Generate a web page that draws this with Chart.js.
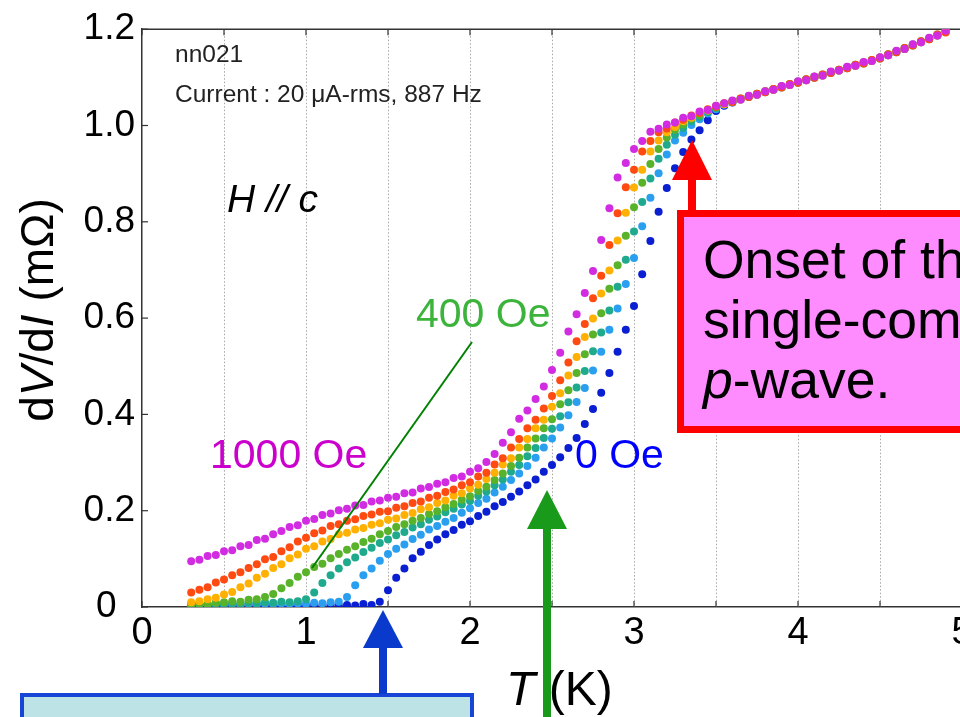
<!DOCTYPE html>
<html>
<head>
<meta charset="utf-8">
<title>dV/dI vs T</title>
<script src="https://cdn.jsdelivr.net/npm/chart.js@4.4.1/dist/chart.umd.min.js"></script>
<style>
  html, body { margin: 0; padding: 0; background: #fff; overflow: hidden; }
  #wrap { width: 960px; height: 717px; overflow: hidden; position: relative; }
  canvas { display: block; }
</style>
</head>
<body>
<div id="wrap"><canvas id="rtChart" width="980" height="717"></canvas></div>
<script>
// temperature (K), shared by every field
const temps = [
  0.30, 0.35, 0.40, 0.45, 0.50, 0.55, 0.60, 0.65, 0.70, 0.75,
  0.80, 0.85, 0.90, 0.95, 1.00, 1.05, 1.10, 1.15, 1.20, 1.25,
  1.30, 1.35, 1.40, 1.45, 1.50, 1.55, 1.60, 1.65, 1.70, 1.75,
  1.80, 1.85, 1.90, 1.95, 2.00, 2.05, 2.10, 2.15, 2.20, 2.25,
  2.30, 2.35, 2.40, 2.45, 2.50, 2.55, 2.60, 2.65, 2.70, 2.75,
  2.80, 2.85, 2.90, 2.95, 3.00, 3.05, 3.10, 3.15, 3.20, 3.25,
  3.30, 3.35, 3.40, 3.45, 3.50, 3.55, 3.60, 3.65, 3.70, 3.75,
  3.80, 3.85, 3.90, 3.95, 4.00, 4.05, 4.10, 4.15, 4.20, 4.25,
  4.30, 4.35, 4.40, 4.45, 4.50, 4.55, 4.60, 4.65, 4.70, 4.75,
  4.80, 4.85, 4.90
];

const fieldLabels = ['1000 Oe', '800 Oe', '600 Oe', '400 Oe', '200 Oe', '100 Oe', '0 Oe'];

// dV/dI (mOhm)
const r1000 = [
  0.095, 0.098, 0.106, 0.108, 0.116, 0.118, 0.126, 0.129, 0.139, 0.142,
  0.151, 0.158, 0.166, 0.170, 0.179, 0.183, 0.191, 0.194, 0.201, 0.204,
  0.211, 0.212, 0.219, 0.221, 0.227, 0.229, 0.236, 0.238, 0.246, 0.249,
  0.256, 0.259, 0.268, 0.271, 0.281, 0.288, 0.301, 0.318, 0.341, 0.363,
  0.391, 0.408, 0.432, 0.458, 0.492, 0.528, 0.572, 0.608, 0.652, 0.698,
  0.762, 0.828, 0.892, 0.922, 0.951, 0.968, 0.987, 0.993, 1.002, 1.006,
  1.016, 1.019, 1.029, 1.032, 1.041, 1.046, 1.052, 1.054, 1.062, 1.064,
  1.071, 1.074, 1.082, 1.084, 1.092, 1.094, 1.102, 1.104, 1.112, 1.114,
  1.122, 1.124, 1.132, 1.134, 1.142, 1.146, 1.155, 1.159, 1.169, 1.173,
  1.182, 1.187, 1.197
];
const r800 = [
  0.030, 0.036, 0.041, 0.051, 0.057, 0.066, 0.072, 0.081, 0.089, 0.099,
  0.104, 0.116, 0.124, 0.136, 0.144, 0.153, 0.159, 0.168, 0.172, 0.179,
  0.182, 0.189, 0.192, 0.198, 0.199, 0.206, 0.209, 0.216, 0.219, 0.227,
  0.231, 0.239, 0.244, 0.253, 0.259, 0.271, 0.279, 0.296, 0.309, 0.331,
  0.349, 0.371, 0.389, 0.412, 0.438, 0.471, 0.508, 0.552, 0.588, 0.641,
  0.688, 0.752, 0.818, 0.872, 0.908, 0.946, 0.968, 0.986, 0.994, 1.006,
  1.012, 1.021, 1.026, 1.034, 1.039, 1.046, 1.049, 1.056, 1.059, 1.066,
  1.069, 1.076, 1.079, 1.086, 1.089, 1.096, 1.099, 1.106, 1.109, 1.116,
  1.119, 1.126, 1.129, 1.136, 1.139, 1.148, 1.152, 1.161, 1.166, 1.175,
  1.179, 1.189, 1.193
];
const r600 = [
  0.010, 0.012, 0.016, 0.019, 0.026, 0.031, 0.041, 0.049, 0.061, 0.069,
  0.081, 0.089, 0.101, 0.109, 0.121, 0.126, 0.136, 0.141, 0.151, 0.154,
  0.161, 0.164, 0.171, 0.174, 0.181, 0.184, 0.191, 0.195, 0.203, 0.207,
  0.216, 0.221, 0.231, 0.236, 0.246, 0.254, 0.266, 0.279, 0.296, 0.309,
  0.331, 0.349, 0.371, 0.389, 0.416, 0.444, 0.481, 0.519, 0.561, 0.599,
  0.651, 0.699, 0.761, 0.819, 0.871, 0.908, 0.946, 0.969, 0.986, 0.997,
  1.009, 1.016, 1.026, 1.031, 1.041, 1.044, 1.051, 1.054, 1.061, 1.064,
  1.071, 1.074, 1.081, 1.084, 1.091, 1.094, 1.101, 1.104, 1.111, 1.114,
  1.121, 1.124, 1.131, 1.134, 1.141, 1.146, 1.154, 1.159, 1.168, 1.173,
  1.181, 1.187, 1.196
];
const r400 = [
  0.005, 0.007, 0.006, 0.009, 0.010, 0.012, 0.011, 0.015, 0.016, 0.021,
  0.027, 0.039, 0.050, 0.063, 0.072, 0.083, 0.090, 0.101, 0.110, 0.119,
  0.126, 0.135, 0.142, 0.151, 0.158, 0.166, 0.172, 0.179, 0.185, 0.193,
  0.199, 0.207, 0.214, 0.223, 0.230, 0.241, 0.250, 0.264, 0.277, 0.293,
  0.310, 0.331, 0.350, 0.371, 0.390, 0.421, 0.450, 0.486, 0.525, 0.566,
  0.610, 0.661, 0.710, 0.771, 0.830, 0.881, 0.920, 0.951, 0.975, 0.991,
  1.002, 1.014, 1.022, 1.031, 1.038, 1.045, 1.051, 1.056, 1.061, 1.066,
  1.071, 1.076, 1.081, 1.086, 1.091, 1.096, 1.101, 1.106, 1.111, 1.116,
  1.121, 1.126, 1.131, 1.136, 1.141, 1.148, 1.154, 1.161, 1.167, 1.175,
  1.181, 1.189, 1.195
];
const r200 = [
  0.005, 0.006, 0.005, 0.007, 0.006, 0.008, 0.007, 0.009, 0.008, 0.010,
  0.009, 0.011, 0.010, 0.012, 0.016, 0.030, 0.050, 0.066, 0.080, 0.093,
  0.103, 0.114, 0.123, 0.133, 0.140, 0.149, 0.156, 0.165, 0.172, 0.181,
  0.188, 0.197, 0.204, 0.213, 0.220, 0.231, 0.240, 0.253, 0.265, 0.281,
  0.295, 0.313, 0.330, 0.351, 0.370, 0.396, 0.425, 0.456, 0.490, 0.531,
  0.570, 0.616, 0.665, 0.721, 0.780, 0.841, 0.890, 0.931, 0.960, 0.981,
  0.995, 1.009, 1.018, 1.028, 1.036, 1.044, 1.049, 1.055, 1.059, 1.065,
  1.069, 1.075, 1.079, 1.085, 1.089, 1.095, 1.099, 1.105, 1.109, 1.115,
  1.119, 1.125, 1.129, 1.135, 1.139, 1.147, 1.152, 1.160, 1.166, 1.174,
  1.179, 1.188, 1.194
];
const r100 = [
  0.004, 0.005, 0.004, 0.006, 0.005, 0.006, 0.005, 0.007, 0.006, 0.007,
  0.006, 0.008, 0.007, 0.008, 0.007, 0.009, 0.008, 0.010, 0.011, 0.021,
  0.045, 0.066, 0.080, 0.096, 0.110, 0.121, 0.130, 0.141, 0.150, 0.161,
  0.168, 0.177, 0.185, 0.196, 0.205, 0.216, 0.225, 0.238, 0.250, 0.264,
  0.277, 0.293, 0.310, 0.331, 0.350, 0.373, 0.398, 0.426, 0.455, 0.491,
  0.530, 0.576, 0.620, 0.671, 0.725, 0.791, 0.850, 0.901, 0.940, 0.969,
  0.985, 1.001, 1.013, 1.025, 1.034, 1.043, 1.049, 1.055, 1.061, 1.065,
  1.071, 1.075, 1.081, 1.085, 1.091, 1.095, 1.101, 1.105, 1.111, 1.115,
  1.121, 1.125, 1.131, 1.135, 1.141, 1.147, 1.154, 1.160, 1.168, 1.174,
  1.181, 1.188, 1.196
];
const r0 = [
  0.002, 0.003, 0.002, 0.004, 0.003, 0.002, 0.004, 0.003, 0.002, 0.004,
  0.003, 0.002, 0.004, 0.003, 0.002, 0.004, 0.003, 0.005, 0.003, 0.004,
  0.003, 0.006, 0.004, 0.011, 0.035, 0.061, 0.080, 0.101, 0.115, 0.129,
  0.140, 0.151, 0.160, 0.171, 0.178, 0.189, 0.198, 0.209, 0.218, 0.229,
  0.240, 0.253, 0.265, 0.281, 0.295, 0.311, 0.330, 0.351, 0.380, 0.411,
  0.445, 0.486, 0.530, 0.576, 0.625, 0.691, 0.760, 0.821, 0.870, 0.911,
  0.945, 0.971, 0.990, 1.011, 1.030, 1.041, 1.048, 1.054, 1.060, 1.064,
  1.070, 1.074, 1.080, 1.084, 1.090, 1.094, 1.100, 1.104, 1.110, 1.114,
  1.120, 1.124, 1.130, 1.134, 1.140, 1.146, 1.153, 1.159, 1.167, 1.173,
  1.180, 1.187, 1.195
];

const xTickLabels = ['0', '1', '2', '3', '4', '5'];
const yTickLabels = ['0\u2002', '0.2', '0.4', '0.6', '0.8', '1.0', '1.2'];

const seriesValues = [r1000, r800, r600, r400, r200, r100, r0];
const seriesColors = ['#d22ce2', '#ff4b12', '#ffb000', '#58b22a', '#1faa8e', '#2a9ff0', '#0a1fd2'];

const FONT = '"Liberation Sans", Arial, Helvetica, sans-serif';
Chart.defaults.font.family = FONT;
Chart.defaults.color = '#000';

// draws text made of plain / italic pieces, left aligned at x
function richText(ctx, parts, x, y, size) {
    let cx = x;
    parts.forEach(p => {
        ctx.font = (p.italic ? 'italic ' : '') + size + 'px ' + FONT;
        ctx.fillText(p.t, cx, y);
        cx += ctx.measureText(p.t).width;
    });
}

function richWidth(ctx, parts, size) {
    let w = 0;
    parts.forEach(p => {
        ctx.font = (p.italic ? 'italic ' : '') + size + 'px ' + FONT;
        w += ctx.measureText(p.t).width;
    });
    return w;
}

function upArrow(ctx, x, tipY, baseY, tailY, half, shaft, color) {
    ctx.fillStyle = color;
    ctx.fillRect(x - shaft / 2, baseY - 1, shaft, tailY - baseY + 1);
    ctx.beginPath();
    ctx.moveTo(x, tipY);
    ctx.lineTo(x + half, baseY);
    ctx.lineTo(x - half, baseY);
    ctx.closePath();
    ctx.fill();
}

const framePlugin = {
    id: 'frame',
    beforeDatasetsDraw(chart) {
        const { ctx, chartArea: a, scales: { x, y } } = chart;
        ctx.save();
        // dotted verticals every 0.5 K
        ctx.strokeStyle = '#a8a8a8';
        ctx.lineWidth = 1;
        ctx.setLineDash([1.5, 2]);
        x.ticks.forEach(t => {
            if (t.value <= 0 || t.value >= 5) return;
            const px = Math.round(x.getPixelForValue(t.value)) + 0.5;
            ctx.beginPath();
            ctx.moveTo(px, a.top);
            ctx.lineTo(px, a.bottom);
            ctx.stroke();
        });
        ctx.setLineDash([]);
        ctx.strokeStyle = '#333';
        ctx.lineWidth = 1.5;
        ctx.beginPath();
        ctx.moveTo(a.left, a.top);
        ctx.lineTo(a.right + 20, a.top);
        ctx.stroke();
        // inward tick marks
        ctx.lineWidth = 1.2;
        x.ticks.forEach(t => {
            const px = x.getPixelForValue(t.value);
            ctx.beginPath();
            ctx.moveTo(px, a.bottom);
            ctx.lineTo(px, a.bottom - 6);
            ctx.moveTo(px, a.top);
            ctx.lineTo(px, a.top + 6);
            ctx.stroke();
        });
        y.ticks.forEach(t => {
            const py = y.getPixelForValue(t.value);
            ctx.beginPath();
            ctx.moveTo(a.left, py);
            ctx.lineTo(a.left + 6, py);
            ctx.stroke();
        });
        ctx.restore();
    }
};

const notesPlugin = {
    id: 'notes',
    afterDraw(chart) {
        const ctx = chart.ctx;
        ctx.save();
        ctx.textAlign = 'left';
        ctx.textBaseline = 'alphabetic';

        // sample info
        ctx.fillStyle = '#222';
        ctx.font = '24.5px ' + FONT;
        ctx.fillText('nn021', 175, 62);
        ctx.fillText('Current : 20 \u03bcA-rms, 887 Hz', 175, 102);
        ctx.fillStyle = '#000';
        ctx.font = 'italic 39px ' + FONT;
        ctx.fillText('H // c', 227, 212);

        // field labels
        ctx.font = '41px ' + FONT;
        ctx.fillStyle = '#3cb43c';
        ctx.fillText('400 Oe', 416, 327);
        ctx.fillStyle = '#cc00cc';
        ctx.fillText('1000 Oe', 210, 468);
        ctx.fillStyle = '#0000ff';
        ctx.fillText('0 Oe', 575, 468);

        ctx.strokeStyle = '#008000';
        ctx.lineWidth = 2;
        ctx.beginPath();
        ctx.moveTo(472, 342);
        ctx.lineTo(312, 568);
        ctx.stroke();

        // axis titles
        ctx.fillStyle = '#000';
        richText(ctx, [{ t: 'T', italic: true }, { t: ' (K)' }], 506, 705, 48);

        const yParts = [{ t: 'd' }, { t: 'V', italic: true }, { t: '/d' }, { t: 'I', italic: true }, { t: ' (m\u03a9)' }];
        const yw = richWidth(ctx, yParts, 46);
        ctx.save();
        ctx.translate(53, 310);
        ctx.rotate(-Math.PI / 2);
        richText(ctx, yParts, -yw / 2, 0, 46);
        ctx.restore();

        // onset box
        ctx.fillStyle = '#ff8cff';
        ctx.fillRect(677, 210, 320, 223);
        ctx.strokeStyle = '#ff0000';
        ctx.lineWidth = 7;
        ctx.strokeRect(680.5, 213.5, 330, 216);
        ctx.fillStyle = '#000';
        ctx.font = '53.5px ' + FONT;
        ctx.fillText('Onset of the', 703, 278);
        ctx.fillText('single-component', 703, 338);
        richText(ctx, [{ t: 'p', italic: true }, { t: '-wave.' }], 703, 398, 53.5);
        upArrow(ctx, 692, 140, 180, 212, 20, 8, '#ff0000');

        // lower-left box
        ctx.fillStyle = '#bde3e6';
        ctx.fillRect(20, 693, 454, 40);
        ctx.strokeStyle = '#1745d6';
        ctx.lineWidth = 4;
        ctx.strokeRect(22, 695, 450, 40);
        upArrow(ctx, 383, 610, 648, 694, 20, 8, '#0a3acc');

        upArrow(ctx, 547, 490, 529, 720, 20, 8, '#1a9a1a');
        ctx.restore();
    }
};

function initializeChart() {
    const datasets = seriesValues.map((vals, i) => ({
        label: fieldLabels[i],
        data: temps.map((t, j) => ({ x: t, y: vals[j] })),
        backgroundColor: seriesColors[i],
        borderWidth: 0,
        pointRadius: 4,
        pointHoverRadius: 4
    }));

    new Chart(document.getElementById('rtChart'), {
        type: 'scatter',
        data: { datasets },
        options: {
            responsive: false,
            animation: false,
            devicePixelRatio: 1,
            layout: { padding: { top: 21, right: 18, left: 0, bottom: 0 } },
            plugins: {
                legend: { display: false },
                tooltip: { enabled: false }
            },
            scales: {
                x: {
                    type: 'linear',
                    min: 0,
                    max: 5,
                    ticks: {
                        stepSize: 0.5,
                        autoSkip: false,
                        maxRotation: 0,
                        padding: 4,
                        color: '#000',
                        font: { size: 38 },
                        callback: v => Number.isInteger(v) ? xTickLabels[v] : ''
                    },
                    grid: { drawOnChartArea: false, drawTicks: false },
                    border: { display: true, color: '#333', width: 1.5 },
                    afterFit: s => { s.height = 110; }
                },
                y: {
                    min: 0,
                    max: 1.2,
                    ticks: {
                        stepSize: 0.2,
                        padding: 7,
                        color: '#000',
                        font: { size: 37 },
                        callback: (v, i) => yTickLabels[i]
                    },
                    grid: { drawOnChartArea: false, drawTicks: false },
                    border: { display: true, color: '#333', width: 1.5 },
                    afterFit: s => { s.width = 142; }
                }
            }
        },
        plugins: [framePlugin, notesPlugin]
    });
}

document.addEventListener('DOMContentLoaded', initializeChart);
</script>
</body>
</html>
